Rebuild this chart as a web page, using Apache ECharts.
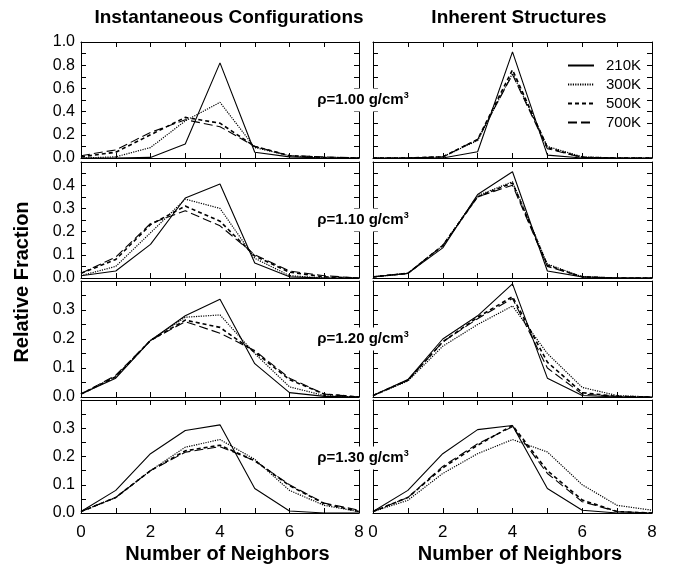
<!DOCTYPE html>
<html>
<head>
<meta charset="utf-8">
<script src="https://cdn.jsdelivr.net/npm/echarts@6/dist/echarts.min.js"></script>
<style>html,body{margin:0;padding:0;background:#fff}#c{width:673px;height:565px}</style>
</head>
<body>
<div id="c"></div>
<script>
// Number of neighbors (x values)
const neighbors = [0, 1, 2, 3, 4, 5, 6, 7, 8];
const temperatures = ['210K', '300K', '500K', '700K'];
const densities = ['1.00', '1.10', '1.20', '1.30'];
const columnTitles = ['Instantaneous Configurations', 'Inherent Structures'];

// Instantaneous configurations
const ic100_210 = [0.0, 0.0, 0.005, 0.12, 0.82, 0.05, 0.01, 0.0, 0.0];
const ic100_300 = [0.0, 0.01, 0.09, 0.32, 0.48, 0.09, 0.02, 0.0, 0.0];
const ic100_500 = [0.01, 0.05, 0.2, 0.35, 0.3, 0.1, 0.02, 0.005, 0.0];
const ic100_700 = [0.02, 0.07, 0.22, 0.33, 0.27, 0.1, 0.02, 0.01, 0.0];

const ic110_210 = [0.01, 0.03, 0.145, 0.345, 0.405, 0.065, 0.005, 0.0, 0.0];
const ic110_300 = [0.01, 0.05, 0.195, 0.34, 0.3, 0.085, 0.01, 0.0, 0.0];
const ic110_500 = [0.02, 0.08, 0.23, 0.31, 0.245, 0.095, 0.025, 0.005, 0.0];
const ic110_700 = [0.02, 0.09, 0.235, 0.29, 0.225, 0.1, 0.03, 0.01, 0.0];

const ic120_210 = [0.01, 0.065, 0.195, 0.28, 0.337, 0.115, 0.015, 0.002, 0.0];
const ic120_300 = [0.01, 0.07, 0.195, 0.275, 0.283, 0.15, 0.035, 0.005, 0.0];
const ic120_500 = [0.01, 0.07, 0.195, 0.265, 0.24, 0.155, 0.06, 0.01, 0.0];
const ic120_700 = [0.01, 0.075, 0.195, 0.26, 0.22, 0.16, 0.065, 0.01, 0.0];

const ic130_210 = [0.005, 0.08, 0.21, 0.292, 0.312, 0.087, 0.007, 0.0, 0.0];
const ic130_300 = [0.005, 0.055, 0.15, 0.233, 0.26, 0.19, 0.08, 0.027, 0.005];
const ic130_500 = [0.005, 0.055, 0.15, 0.22, 0.24, 0.185, 0.097, 0.033, 0.005];
const ic130_700 = [0.005, 0.055, 0.15, 0.215, 0.235, 0.185, 0.1, 0.035, 0.01];

// Inherent structures
const is100_210 = [0.0, 0.0, 0.0, 0.054, 0.915, 0.025, 0.0, 0.0, 0.0];
const is100_300 = [0.0, 0.0, 0.01, 0.15, 0.73, 0.1, 0.01, 0.0, 0.0];
const is100_500 = [0.0, 0.0, 0.01, 0.16, 0.76, 0.09, 0.005, 0.0, 0.0];
const is100_700 = [0.0, 0.0, 0.01, 0.16, 0.72, 0.08, 0.005, 0.0, 0.0];

const is110_210 = [0.005, 0.02, 0.13, 0.36, 0.458, 0.03, 0.005, 0.0, 0.0];
const is110_300 = [0.005, 0.02, 0.14, 0.355, 0.415, 0.06, 0.005, 0.0, 0.0];
const is110_500 = [0.005, 0.02, 0.14, 0.35, 0.41, 0.055, 0.005, 0.0, 0.0];
const is110_700 = [0.005, 0.02, 0.14, 0.35, 0.4, 0.05, 0.005, 0.0, 0.0];

const is120_210 = [0.005, 0.06, 0.2, 0.28, 0.39, 0.065, 0.005, 0.0, 0.0];
const is120_300 = [0.005, 0.055, 0.175, 0.25, 0.314, 0.15, 0.033, 0.005, 0.0];
const is120_500 = [0.005, 0.058, 0.19, 0.275, 0.346, 0.12, 0.015, 0.002, 0.0];
const is120_700 = [0.005, 0.058, 0.19, 0.27, 0.34, 0.1, 0.01, 0.002, 0.0];

const is130_210 = [0.005, 0.08, 0.21, 0.295, 0.31, 0.087, 0.01, 0.0, 0.0];
const is130_300 = [0.005, 0.045, 0.14, 0.21, 0.26, 0.216, 0.1, 0.027, 0.01];
const is130_500 = [0.005, 0.055, 0.16, 0.24, 0.31, 0.15, 0.046, 0.005, 0.0];
const is130_700 = [0.005, 0.055, 0.165, 0.245, 0.305, 0.14, 0.04, 0.005, 0.0];

const panels = [
  [ic100_210, ic100_300, ic100_500, ic100_700], [is100_210, is100_300, is100_500, is100_700],
  [ic110_210, ic110_300, ic110_500, ic110_700], [is110_210, is110_300, is110_500, is110_700],
  [ic120_210, ic120_300, ic120_500, ic120_700], [is120_210, is120_300, is120_500, is120_700],
  [ic130_210, ic130_300, ic130_500, ic130_700], [is130_210, is130_300, is130_500, is130_700]
];

const rowMax = [1.0, 0.5, 0.4, 0.4];
const rowTick = [0.1, 0.05, 0.05, 0.05];
const rowTops = [42, 162, 281, 400];
const colLefts = [81, 373];
const colWidths = [278, 279];
const panelH = 116;

const lineStyles = [
  { type: 'solid', width: 1.1 },
  { type: [1.2, 1.2], width: 1.2 },
  { type: [4, 3], width: 1.6 },
  { type: [9, 4], width: 1.1 }
];

const FONT = 'Liberation Sans, Arial, Helvetica, sans-serif';
const grids = [], xAxes = [], yAxes = [], series = [];
for (let g = 0; g < 8; g++) {
  const r = Math.floor(g / 2), c = g % 2;
  grids.push({ left: colLefts[c], top: rowTops[r], width: colWidths[c], height: panelH, containLabel: false });
  const axLine = { show: true, onZero: false, lineStyle: { color: '#000', width: 1 } };
  const tick = { show: true, inside: true, length: 5, lineStyle: { color: '#000', width: 1 } };
  xAxes.push({
    gridIndex: g, type: 'value', position: 'bottom', min: 0, max: 8, interval: 1,
    axisLine: axLine, axisTick: tick, splitLine: { show: false },
    axisLabel: { show: r === 3, color: '#000', fontSize: 17, fontFamily: FONT, margin: 11,
      formatter: v => (Math.round(v) % 2 === 0 ? String(Math.round(v)) : '') },
    name: r === 3 ? 'Number of Neighbors' : '', nameLocation: 'middle', nameGap: 31,
    nameTextStyle: { color: '#000', fontSize: 20, fontWeight: 'bold', fontFamily: FONT,
      padding: [0, 0, 0, 15] }
  });
  xAxes.push({
    gridIndex: g, type: 'value', position: 'top', min: 0, max: 8, interval: 1,
    axisLine: axLine, axisTick: tick, splitLine: { show: false }, axisLabel: { show: false }
  });
  const mx = rowMax[r];
  yAxes.push({
    gridIndex: g, type: 'value', position: 'left', min: 0, max: mx, interval: rowTick[r],
    axisLine: axLine, axisTick: tick, splitLine: { show: false },
    axisLabel: { show: c === 0, color: '#000', fontSize: 16, fontFamily: FONT, margin: 6,
      formatter: v => {
        const k = Math.round(v * 100);
        if (k % 10 !== 0) return '';
        if (r === 0) return (k % 20 === 0) ? (k / 100).toFixed(1) : '';
        if (v > mx - 0.06) return '';
        return (k / 100).toFixed(1);
      } }
  });
  yAxes.push({
    gridIndex: g, type: 'value', position: 'right', min: 0, max: mx, interval: rowTick[r],
    axisLine: axLine, axisTick: tick, splitLine: { show: false }, axisLabel: { show: false }
  });
  panels[g].forEach((arr, s) => {
    series.push({
      type: 'line', name: temperatures[s], xAxisIndex: 2 * g, yAxisIndex: 2 * g,
      data: neighbors.map((x, i) => [x, arr[i]]),
      symbol: 'none', showSymbol: false, silent: true, animation: false,
      lineStyle: Object.assign({ color: '#000' }, lineStyles[s]),
      itemStyle: { color: '#000' }, z: 4 - s
    });
  });
}

const graphic = [];
const titleCenters = [229, 519];
columnTitles.forEach((t, c) => {
  graphic.push({ type: 'text', x: titleCenters[c], y: 18,
    style: { text: t, fill: '#000', font: 'bold 19px ' + FONT, textAlign: 'center', textVerticalAlign: 'middle' } });
});
graphic.push({ type: 'text', x: 22, y: 282, rotation: Math.PI / 2,
  style: { text: 'Relative Fraction', fill: '#000', font: 'bold 20px ' + FONT, textAlign: 'center', textVerticalAlign: 'middle' } });
densities.forEach((d, r) => {
  graphic.push({ type: 'text', x: 363, y: rowTops[r] + panelH / 2, z: 100,
    style: {
      text: '{a|\u03c1=' + d + ' g/cm}{b|3}',
      rich: { a: { fontSize: 15, fontWeight: 'bold', fontFamily: FONT, fill: '#000', lineHeight: 17 },
              b: { fontSize: 9, fontWeight: 'bold', fontFamily: FONT, fill: '#000', verticalAlign: 'top', lineHeight: 17 } },
      textAlign: 'center', textVerticalAlign: 'middle', backgroundColor: '#fff', padding: [3, 1, 3, 1]
    } });
});

const chart = echarts.init(document.getElementById('c'), null, { renderer: 'canvas' });
chart.setOption({
  animation: false,
  backgroundColor: '#fff',
  color: ['#000', '#000', '#000', '#000'],
  grid: grids, xAxis: xAxes, yAxis: yAxes, series: series,
  legend: {
    data: temperatures, orient: 'vertical', left: 562, top: 53,
    itemWidth: 26, itemHeight: 14, itemGap: 4,
    itemStyle: { opacity: 0 },
    textStyle: { color: '#000', fontSize: 15, fontFamily: FONT, lineHeight: 15, padding: [0, 0, 0, 7] }
  },
  graphic: graphic
});
</script>
</body>
</html>
